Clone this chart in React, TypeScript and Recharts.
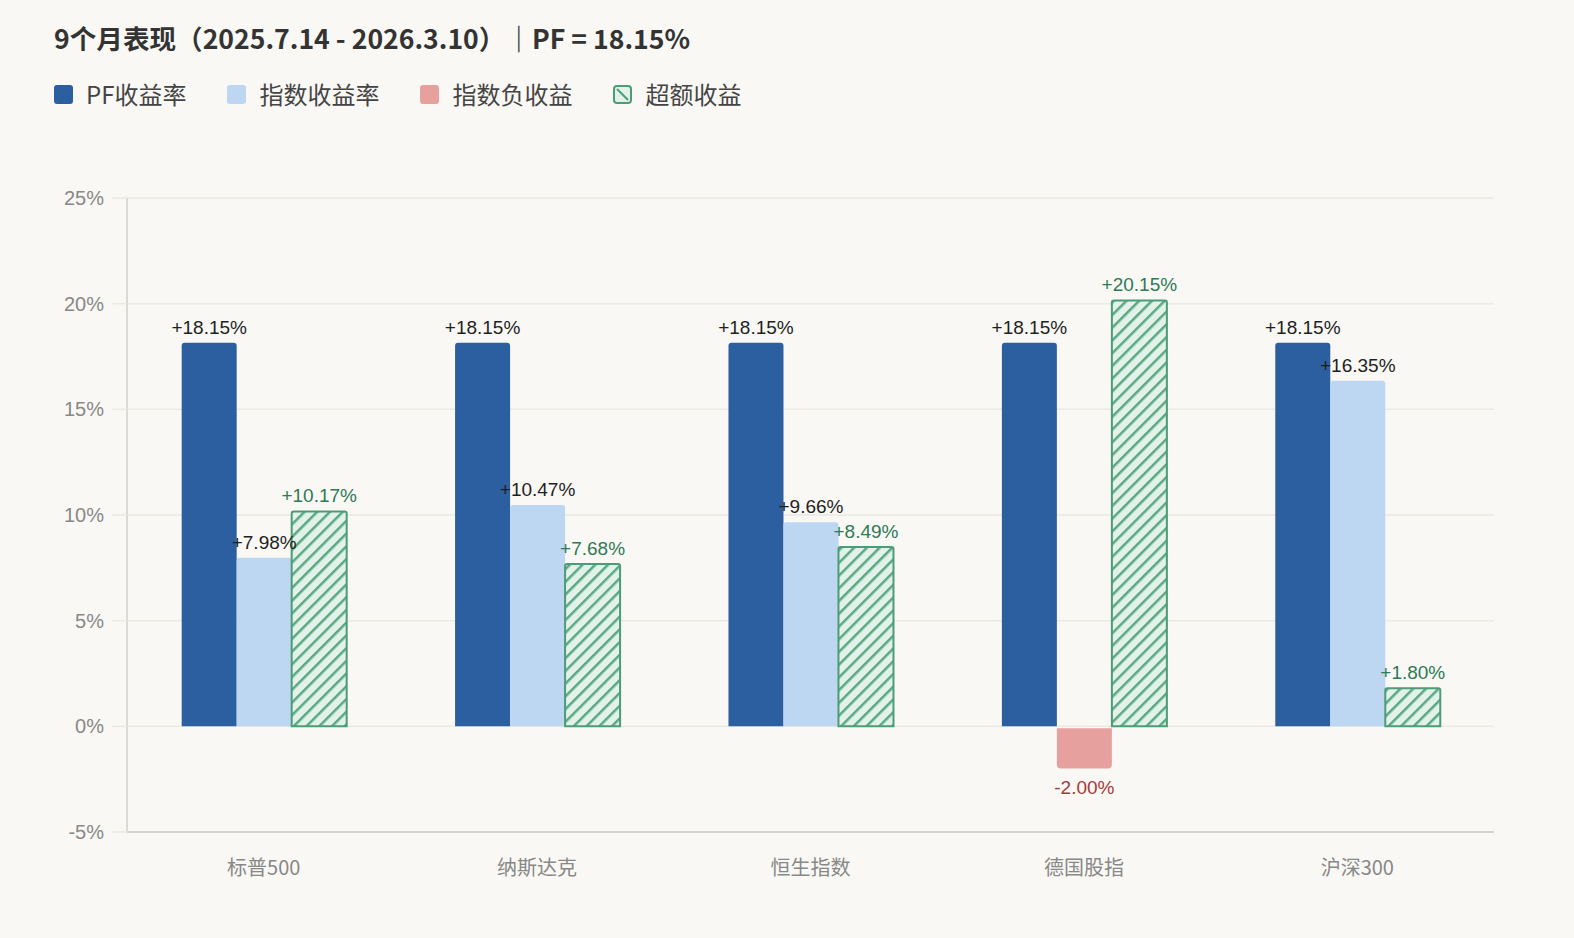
import { BarChart, Bar, XAxis, YAxis, CartesianGrid, LabelList } from 'recharts';

const categories = ['标普500', '纳斯达克', '恒生指数', '德国股指', '沪深300'];
const pfReturns = [18.15, 18.15, 18.15, 18.15, 18.15];
const indexReturns = [7.98, 10.47, 9.66, -2.0, 16.35];
const excessReturns = [10.17, 7.68, 8.49, 20.15, 1.8];
const yTicks = [-5, 0, 5, 10, 15, 20, 25];

const BG = '#f9f8f4';
const PF_COLOR = '#2c5f9f';
const INDEX_COLOR = '#bdd6f2';
const NEG_COLOR = '#e6a19e';
const GREEN = '#4d9c78';
const SANS = '"Liberation Sans", Arial, "Noto Sans CJK SC", sans-serif';
const CJK = '"Noto Sans CJK SC", "Noto Sans", sans-serif';

const data = categories.map((name, i) => ({
  name,
  pf: pfReturns[i],
  index: indexReturns[i],
  excess: excessReturns[i],
}));

const fmt = (v: number) => (v > 0 ? '+' : '') + v.toFixed(2) + '%';

// label above positive bars, below negative ones
const valueLabel = (color: string, negColor?: string) => (props: any) => {
  const { x, y, width, height, value } = props;
  const v = Number(value);
  const cx = Number(x) + Number(width) / 2;
  const top = Math.min(Number(y), Number(y) + Number(height));
  const bottom = Math.max(Number(y), Number(y) + Number(height));
  const neg = v < 0;
  return (
    <text
      x={cx}
      y={neg ? bottom + 25 : top - 9}
      textAnchor="middle"
      fill={neg && negColor ? negColor : color}
      fontSize={19}
      fontFamily={SANS}
    >
      {fmt(v)}
    </text>
  );
};

// rounded corners on the end away from zero
function roundedPath(x: number, top: number, w: number, h: number, r: number, roundTop: boolean) {
  const b = top + h;
  if (roundTop) {
    return `M${x},${b} L${x},${top + r} Q${x},${top} ${x + r},${top} L${x + w - r},${top} Q${x + w},${top} ${x + w},${top + r} L${x + w},${b} Z`;
  }
  return `M${x},${top} L${x + w},${top} L${x + w},${b - r} Q${x + w},${b} ${x + w - r},${b} L${x + r},${b} Q${x},${b} ${x},${b - r} Z`;
}

const IndexShape = (props: any) => {
  const { x, y, width, height, value } = props;
  const v = Array.isArray(value) ? value[1] : Number(value);
  const top = Math.min(Number(y), Number(y) + Number(height));
  const h = Math.abs(Number(height));
  if (v < 0) {
    return <path d={roundedPath(x, top + 2, width, h - 2, 4, false)} fill={NEG_COLOR} />;
  }
  return <path d={roundedPath(x, top, width, h, 3, true)} fill={INDEX_COLOR} />;
};

const legendItems = [
  { label: 'PF收益率', color: PF_COLOR },
  { label: '指数收益率', color: INDEX_COLOR },
  { label: '指数负收益', color: NEG_COLOR },
  { label: '超额收益', color: 'hatch' },
];

export default function App() {
  return (
    <div style={{ position: 'fixed', inset: 0, background: BG, overflow: 'hidden' }}>
      <svg width={0} height={0} style={{ position: 'absolute' }}>
        <defs>
          <pattern id="hatch" patternUnits="userSpaceOnUse" width={9} height={9} patternTransform="rotate(45)">
            <rect width={9} height={9} fill="#e2f2e9" />
            <line x1={0} y1={0} x2={0} y2={9} stroke="#5aa883" strokeWidth={5} />
          </pattern>
        </defs>
      </svg>

      <div
        style={{
          position: 'absolute',
          left: 54,
          top: 20,
          fontFamily: CJK,
          fontWeight: 700,
          fontSize: 26.6,
          color: '#333',
          whiteSpace: 'nowrap',
          lineHeight: '36px',
        }}
      >
        9个月表现（2025.7.14 - 2026.3.10）｜PF = 18.15%
      </div>

      <div
        style={{
          position: 'absolute',
          left: 54,
          top: 78,
          display: 'flex',
          alignItems: 'center',
          gap: 41,
          fontFamily: CJK,
          fontSize: 24,
          color: '#444',
          lineHeight: '32px',
        }}
      >
        {legendItems.map(it => (
          <div key={it.label} style={{ display: 'flex', alignItems: 'center', gap: 13 }}>
            {it.color === 'hatch' ? (
              <svg width={19} height={19}>
                <rect x={1} y={1} width={17} height={17} rx={3} fill="#e2f2e9" stroke={GREEN} strokeWidth={2} />
                <line x1={4} y1={4} x2={15} y2={15} stroke={GREEN} strokeWidth={2} />
              </svg>
            ) : (
              <div style={{ width: 19, height: 19, borderRadius: 3, background: it.color }} />
            )}
            <span>{it.label}</span>
          </div>
        ))}
      </div>

      <div style={{ position: 'absolute', left: 0, top: 0 }}>
        <BarChart
          width={1574}
          height={938}
          data={data}
          margin={{ top: 198, right: 80, bottom: 76, left: 0 }}
          barCategoryGap="20%"
          barGap={0}
        >
          <CartesianGrid vertical={false} stroke="#ebe9e4" strokeWidth={1.5} />
          <XAxis
            dataKey="name"
            height={30}
            tickLine={false}
            tickSize={0}
            tickMargin={29}
            axisLine={{ stroke: '#d6d4d0', strokeWidth: 2 }}
            tick={{ fill: '#888', fontSize: 20, fontFamily: CJK }}
          />
          <YAxis
            width={127}
            domain={[-5, 25]}
            ticks={yTicks}
            tickFormatter={(v: number) => `${v}%`}
            tickSize={15}
            tickMargin={8}
            tickLine={{ stroke: '#ebe9e4', strokeWidth: 1.5 }}
            axisLine={{ stroke: '#dcdad5', strokeWidth: 2 }}
            tick={{ fill: '#888', fontSize: 20, fontFamily: SANS }}
          />
          <Bar dataKey="pf" fill={PF_COLOR} radius={[3, 3, 0, 0]} isAnimationActive={false}>
            <LabelList dataKey="pf" content={valueLabel('#1f1f1f')} />
          </Bar>
          <Bar dataKey="index" fill={INDEX_COLOR} shape={IndexShape} isAnimationActive={false}>
            <LabelList dataKey="index" content={valueLabel('#1f1f1f', '#a63a3a')} />
          </Bar>
          <Bar
            dataKey="excess"
            fill="url(#hatch)"
            stroke={GREEN}
            strokeWidth={2}
            radius={[2, 2, 0, 0]}
            isAnimationActive={false}
          >
            <LabelList dataKey="excess" content={valueLabel('#2f7a56')} />
          </Bar>
        </BarChart>
      </div>
    </div>
  );
}
